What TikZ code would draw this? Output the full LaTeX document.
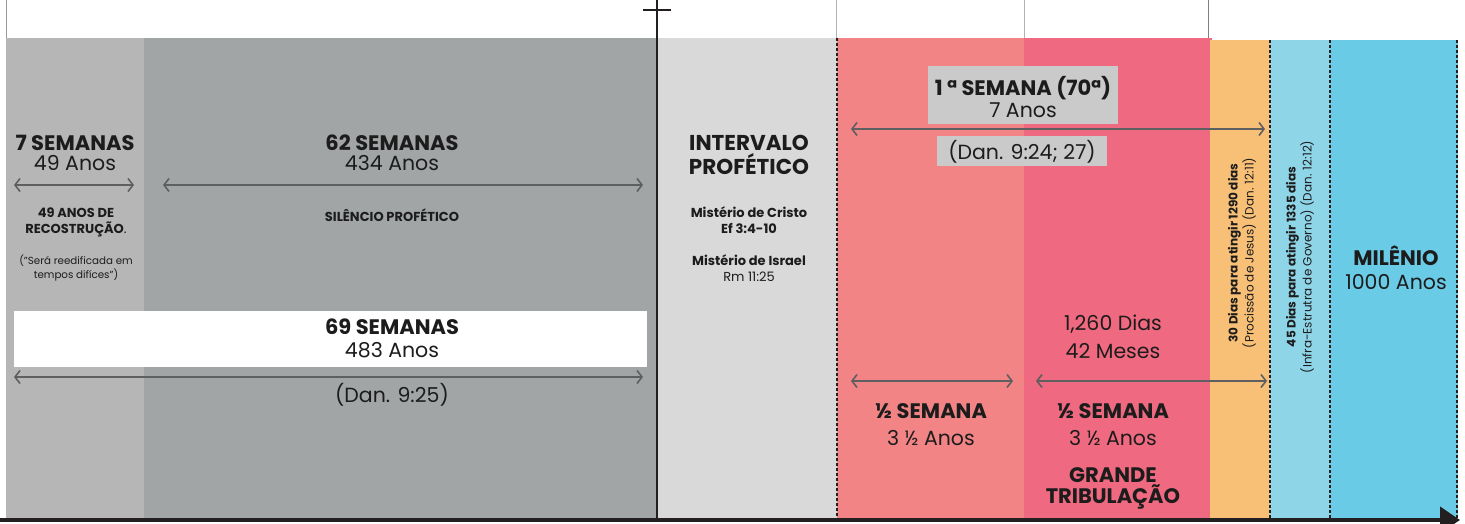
\documentclass[tikz,border=0pt]{standalone}
\usepackage{fontspec}
\setmainfont{Poppins}
\usepackage{tikz}
\usetikzlibrary{arrows.meta,positioning}

\definecolor{cinzaclaro}{HTML}{B5B6B5}
\definecolor{cinza}{HTML}{A2A5A6}
\definecolor{cinzafraco}{HTML}{D8D9D8}
\definecolor{rosa}{HTML}{F28486}
\definecolor{rosaforte}{HTML}{EF6A80}
\definecolor{laranja}{HTML}{F8C077}
\definecolor{azulclaro}{HTML}{8FD5E8}
\definecolor{azul}{HTML}{69CBE6}
\definecolor{caixacinza}{HTML}{CBCACA}
\definecolor{setacinza}{HTML}{5E5F61}
\definecolor{texto}{HTML}{1C1C1C}
\definecolor{escuro}{HTML}{231F20}

\begin{document}
\begin{tikzpicture}[x=1pt,y=-1pt]
  \useasboundingbox (0,0) rectangle (1465,524);

  % Define styles
  \tikzset{
    titulo/.style={font=\fontsize{20.5}{21}\selectfont, align=center, text=texto, inner sep=0pt},
    nota/.style={font=\bfseries\fontsize{13}{16}\selectfont, align=center, text=texto, inner sep=0pt},
    miudo/.style={font=\fontsize{10.3}{14}\selectfont, align=center, text=texto, inner sep=0pt},
    caixa/.style={fill=caixacinza, inner sep=0pt},
    seta/.style={draw=setacinza, line width=1.6pt,
      {Straight Barb[length=5pt,width=13pt]}-{Straight Barb[length=5pt,width=13pt]}},
    divisa/.style={draw=escuro, line width=1.1pt, dash pattern=on 3pt off 2pt},
    vertical/.style={rotate=90, font=\fontsize{12}{16}\selectfont, align=center, text=texto, inner sep=0pt}
  }
  \newcommand{\negrito}[1]{{\bfseries\fontsize{21}{21}\selectfont #1}}

  % Faixas
  \fill[cinzaclaro] (6,38) rectangle (144,518);
  \fill[cinza] (144,38) rectangle (656,518);
  \fill[cinzafraco] (656,38) rectangle (837,518);
  \fill[rosa] (837,38) rectangle (1024,518);
  \fill[rosaforte] (1024,38) rectangle (1212,518);
  \fill[laranja] (1210,40) rectangle (1270,518);
  \fill[azulclaro] (1270,40) rectangle (1330,518);
  \fill[azul] (1330,40) rectangle (1458,518);

  % Linhas de cima
  \draw[gray!80, line width=0.8pt] (6,0) -- (6,38);
  \draw[gray!60, line width=0.8pt] (836,0) -- (836,38);
  \draw[gray!60, line width=0.8pt] (1024,0) -- (1024,38);
  \draw[gray, line width=1pt] (1208,0) -- (1208,38);

  % Divisas
  \draw[divisa] (837,38) -- (837,518);
  \draw[divisa] (1270,40) -- (1270,518);
  \draw[divisa] (1330,40) -- (1330,518);
  \draw[divisa] (1457,40) -- (1457,518);

  % Cruz e eixo
  \coordinate (cruzA) at (657,0);
  \coordinate (cruzB) at (657,520);
  \coordinate (barraA) at (643,10);
  \coordinate (barraB) at (671,10);
  \draw[escuro, line width=2.5pt] (cruzA) -- (cruzB);
  \draw[escuro, line width=2.5pt] (barraA) -- (barraB);
  \coordinate (eixoA) at (0,520);
  \coordinate (eixoB) at (1460,520);
  \draw[escuro, line width=4pt, -{Triangle[length=20pt,width=26pt]}] (eixoA) -- (eixoB);

  % 7 semanas
  \node[titulo] (sete) at (75,153) {\negrito{7 SEMANAS}\\[-1pt]49 Anos};
  \coordinate (seteA) at (14,185);
  \coordinate (seteB) at (134,185);
  \draw[seta] (seteA) -- (seteB);
  \node[nota] (reconstrucao) at (76,222) {49 ANOS DE\\RECOSTRUÇÃO{\mdseries .}};
  \node[miudo] (reedificada) at (76,268) {("Será reedificada em\\tempos difíces")};

  % 62 semanas
  \node[titulo] (sessenta) at (392,153) {\negrito{62 SEMANAS}\\[-1pt]434 Anos};
  \coordinate (sessentaA) at (163,185);
  \coordinate (sessentaB) at (643,185);
  \draw[seta] (sessentaA) -- (sessentaB);
  \node[nota] (silencio) at (392,215) {SILÊNCIO PROFÉTICO};

  % 69 semanas
  \node[fill=white, minimum width=633pt, minimum height=56pt, inner sep=0pt] (branco) at (330.5,339) {};
  \node[titulo] (sessentanove) at (392,338) {\negrito{69 SEMANAS}\\[2pt]483 Anos};
  \coordinate (totalA) at (14,377);
  \coordinate (totalB) at (643,377);
  \draw[seta] (totalA) -- (totalB);
  \node[titulo] (dan925) at (392,395) {(Dan. 9:25)};

  % Intervalo
  \node[titulo, font=\bfseries\fontsize{21.5}{24}\selectfont] (intervalo) at (749,155) {INTERVALO\\PROFÉTICO};
  \node[nota] (cristo) at (749,220) {Mistério de Cristo\\Ef 3:4-10};
  \node[nota, font=\fontsize{13}{16}\selectfont] (israel) at (749,268) {\textbf{Mistério de Israel}\\Rm 11:25};

  % 70a semana
  \node[caixa, minimum width=190pt, minimum height=58pt] (caixaA) at (1023,95) {};
  \node[titulo] (setenta) at (1023,97) {\negrito{1 ª SEMANA (70ª)}\\[1pt]7 Anos};
  \coordinate (setentaA) at (851,129);
  \coordinate (setentaB) at (1265,129);
  \draw[seta] (setentaA) -- (setentaB);
  \node[caixa, minimum width=170pt, minimum height=30pt] (caixaB) at (1022,151) {};
  \node[titulo] (dan924) at (1022,152) {(Dan. 9:24; 27)};

  % Meias semanas
  \node[titulo, font=\fontsize{20.5}{28}\selectfont] (dias) at (1113,337) {1,260 Dias\\42 Meses};
  \coordinate (meiaA) at (851,381);
  \coordinate (meiaB) at (1013,381);
  \coordinate (meiaC) at (1036,381);
  \coordinate (meiaD) at (1267,381);
  \draw[seta] (meiaA) -- (meiaB);
  \draw[seta] (meiaC) -- (meiaD);
  \node[titulo] (meiaUm) at (931,425) {\negrito{½ SEMANA}\\[6pt]3 ½ Anos};
  \node[titulo] (meiaDois) at (1113,425) {\negrito{½ SEMANA}\\[6pt]3 ½ Anos};
  \node[titulo, font=\bfseries\fontsize{21}{21}\selectfont] (tribulacao) at (1113,488) {GRANDE\\TRIBULAÇÃO};

  % Colunas verticais
  \node[vertical] (trinta) at (1242,253) {\textbf{30 Dias para atingir 1290 dias}\\(Procissão de Jesus) (Dan. 12:11)};
  \node[vertical] (quarenta) at (1300,257) {\textbf{45 Dias para atingir 1335 dias}\\(Infra-Estrutra de Governo) (Dan. 12:12)};

  % Milenio
  \node[titulo] (milenio) at (1396,268) {\negrito{MILÊNIO}\\[3pt]1000 Anos};

\end{tikzpicture}
\end{document}
